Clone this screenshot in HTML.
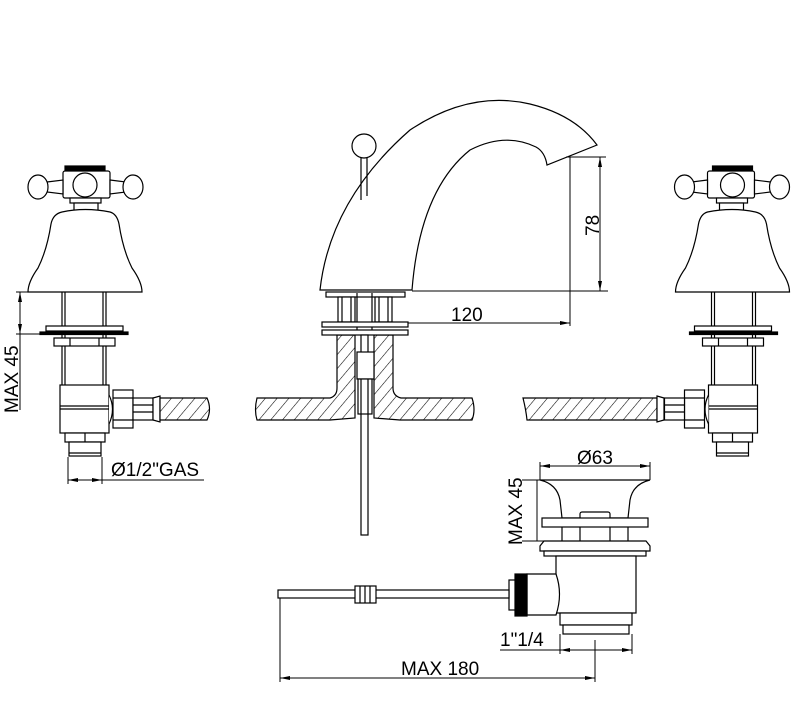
<!DOCTYPE html>
<html><head><meta charset="utf-8"><style>
html,body{margin:0;padding:0;background:#fff}
svg{display:block}
text{font-family:"Liberation Sans","DejaVu Sans",sans-serif;font-size:19px;fill:#000}
</style></head><body>
<svg width="803" height="710" viewBox="0 0 803 710" xmlns="http://www.w3.org/2000/svg">
<defs>
<pattern id="h" width="9" height="9" patternUnits="userSpaceOnUse" patternTransform="rotate(40)">
<rect width="9" height="9" fill="#fff"/><line x1="0" y1="0" x2="0" y2="9" stroke="#000" stroke-width="1.1"/>
</pattern>
<marker id="a" markerWidth="10" markerHeight="6" refX="10" refY="3" orient="auto-start-reverse" markerUnits="userSpaceOnUse"><path d="M0,1 L10,3 L0,5" fill="#000"/></marker>
<g id="tap" fill="#fff" stroke="#000" stroke-width="1.2">
<rect x="65" y="166" width="40" height="4" fill="#000"/>
<rect x="63" y="171" width="47" height="27" rx="2"/>
<circle cx="85" cy="185" r="12"/>
<path d="M47,182 L63,180 L63,194 L47,192 Z"/>
<path d="M110,180 L126,182 L126,192 L110,194 Z"/>
<ellipse cx="38" cy="187" rx="10" ry="12"/>
<ellipse cx="133" cy="187" rx="10" ry="12"/>
<rect x="70" y="198" width="31" height="5"/>
<rect x="74" y="203" width="24" height="11"/>
<path d="M62,212 Q85,207 110,212 Q117,214 119,224 Q123,250 132,268 Q142,282 142,292 L28,292 Q28,282 38,268 Q47,250 51,224 Q53,214 62,212 Z"/>
<line x1="62" y1="292" x2="62" y2="386"/><line x1="65" y1="292" x2="65" y2="386"/>
<line x1="103" y1="292" x2="103" y2="386"/><line x1="106" y1="292" x2="106" y2="386"/>
<rect x="46" y="326" width="77" height="5"/>
<rect x="40" y="332" width="88" height="2.5" fill="#000"/>
<rect x="54" y="338" width="61" height="8"/>
<line x1="70" y1="338" x2="70" y2="346"/><line x1="99" y1="338" x2="99" y2="346"/>
<rect x="60" y="385" width="49" height="48"/>
<line x1="60" y1="406" x2="109" y2="406"/><line x1="60" y1="409" x2="109" y2="409"/>
<path d="M109,395 Q116,409 109,424"/>
<rect x="113" y="390" width="20" height="38"/>
<line x1="113" y1="398" x2="133" y2="398"/><line x1="113" y1="420" x2="133" y2="420"/>
<rect x="133" y="398" width="20" height="22"/>
<line x1="133" y1="405" x2="153" y2="405"/><line x1="133" y1="412" x2="153" y2="412"/>
<rect x="65" y="433" width="40" height="9"/>
<line x1="85" y1="433" x2="85" y2="442"/>
<rect x="69" y="442" width="32" height="14"/>
<line x1="69" y1="453" x2="101" y2="453"/>
</g>
</defs>

<use href="#tap"/>
<use href="#tap" transform="translate(817.5,0) scale(-1,1)"/>

<path d="M153,398 L160,396 L160,422 L153,420 Z" fill="#fff" stroke="#000" stroke-width="1.2"/>
<path d="M160,398 L207,398 Q212,409 207,420 L160,420 Z" fill="url(#h)" stroke="#000" stroke-width="1.2"/>

<path d="M523,398 L657,398 L657,420 L527,420 Q526,410 523,398 Z" fill="url(#h)" stroke="#000" stroke-width="1.2"/>
<path d="M657,396 L664,398 L664,420 L657,422 Z" fill="#fff" stroke="#000" stroke-width="1.2"/>

<path d="M257,398 L330,398 Q337,396 337,388 L337,335 L355,335 L355,418 L330,420 L257,420 Q254,410 257,398 Z" fill="url(#h)" stroke="#000" stroke-width="1.2"/>
<path d="M374,335 L393,335 L393,388 Q393,396 401,398 L472,398 Q476,410 472,420 L400,420 L374,418 Z" fill="url(#h)" stroke="#000" stroke-width="1.2"/>

<g fill="#fff" stroke="#000" stroke-width="1.2">
<path d="M320,290 Q330,200 410,130 Q470,90 530,104 Q575,115 597,145 L547,165 Q545,152 536,147 Q505,132 470,150 Q420,190 412,290 Z"/>
<line x1="361" y1="157" x2="361" y2="200"/><line x1="367" y1="157" x2="367" y2="196"/>
<circle cx="364" cy="146" r="12"/>
<rect x="326" y="292" width="79" height="5"/>
<rect x="338" y="297" width="17" height="25"/><rect x="375" y="297" width="17" height="25"/>
<line x1="342" y1="297" x2="342" y2="322"/><line x1="351" y1="297" x2="351" y2="322"/>
<line x1="379" y1="297" x2="379" y2="322"/><line x1="388" y1="297" x2="388" y2="322"/>
<line x1="357" y1="293" x2="357" y2="330"/><line x1="372" y1="293" x2="372" y2="330"/>
<rect x="322" y="322" width="86" height="5"/>
<rect x="322" y="330" width="86" height="5"/>
<rect x="361" y="335" width="7" height="200"/>
<rect x="357" y="352" width="17" height="27"/>
<rect x="358" y="379" width="14" height="35"/>
<line x1="361" y1="379" x2="361" y2="414"/><line x1="368" y1="379" x2="368" y2="414"/>

<path d="M540,480 L650,480 Q633,484 630,500 L628,518 L562,518 L560,500 Q557,484 540,480 Z"/>
<rect x="580" y="512" width="30" height="7" rx="2"/>
<rect x="542" y="518" width="106" height="9"/>
<line x1="562" y1="527" x2="562" y2="541"/><line x1="628" y1="527" x2="628" y2="541"/>
<line x1="580" y1="527" x2="580" y2="541"/><line x1="610" y1="527" x2="610" y2="541"/>
<path d="M544,541 L646,541 L650,546 L650,551 L540,551 L540,546 Z"/>
<rect x="544" y="551" width="102" height="5"/>
<rect x="556" y="556" width="80" height="57"/>
<rect x="560" y="613" width="72" height="12"/>
<rect x="563" y="625" width="66" height="9"/>
<path d="M527,574 L556,574 Q563,594 556,615 L527,615 Z"/>
<rect x="515" y="574" width="12" height="42" fill="#000"/>
<rect x="509" y="580" width="6" height="30"/>
<rect x="278" y="590" width="231" height="8"/>
<rect x="355" y="586" width="21" height="17"/>
<line x1="360" y1="586" x2="360" y2="603"/><line x1="365" y1="586" x2="365" y2="603"/><line x1="370" y1="586" x2="370" y2="603"/>
</g>

<g stroke="#000" stroke-width="1" fill="none">
<line x1="16" y1="292" x2="28" y2="292"/><line x1="16" y1="334" x2="40" y2="334"/>
<line x1="20" y1="292" x2="20" y2="334" marker-start="url(#a)" marker-end="url(#a)"/>
<line x1="20" y1="334" x2="20" y2="410"/>
<line x1="68" y1="457" x2="68" y2="484"/><line x1="102" y1="457" x2="102" y2="484"/>
<line x1="68" y1="480" x2="102" y2="480" marker-start="url(#a)" marker-end="url(#a)"/>
<line x1="102" y1="480" x2="204" y2="480"/>

<line x1="412" y1="291" x2="608" y2="291"/>
<line x1="570" y1="157" x2="570" y2="326"/>
<line x1="566" y1="157" x2="606" y2="157"/>
<line x1="600" y1="157" x2="600" y2="291" marker-start="url(#a)" marker-end="url(#a)"/>
<line x1="408" y1="323" x2="570" y2="323" marker-end="url(#a)"/>

<line x1="540" y1="462" x2="540" y2="480"/><line x1="650" y1="462" x2="650" y2="480"/>
<line x1="540" y1="466" x2="650" y2="466" marker-start="url(#a)" marker-end="url(#a)"/>
<line x1="522" y1="480" x2="540" y2="480"/><line x1="522" y1="541" x2="544" y2="541"/>
<line x1="537" y1="480" x2="537" y2="541"/>
<line x1="560" y1="634" x2="560" y2="654"/><line x1="632" y1="634" x2="632" y2="654"/>
<line x1="560" y1="650" x2="632" y2="650" marker-start="url(#a)" marker-end="url(#a)"/>
<line x1="500" y1="650" x2="560" y2="650"/>
<line x1="280" y1="598" x2="280" y2="682"/><line x1="595" y1="640" x2="595" y2="682"/>
<line x1="280" y1="678" x2="595" y2="678" marker-start="url(#a)" marker-end="url(#a)"/>
</g>

<text x="111" y="476">Ø1/2"GAS</text>
<text transform="translate(18,413) rotate(-90)">MAX 45</text>
<text x="451" y="321">120</text>
<text transform="translate(599,236) rotate(-90)">78</text>
<text x="577" y="464">Ø63</text>
<text transform="translate(522,545) rotate(-90)">MAX 45</text>
<text x="500" y="646">1"1/4</text>
<text x="401" y="675">MAX 180</text>
</svg>
</body></html>
